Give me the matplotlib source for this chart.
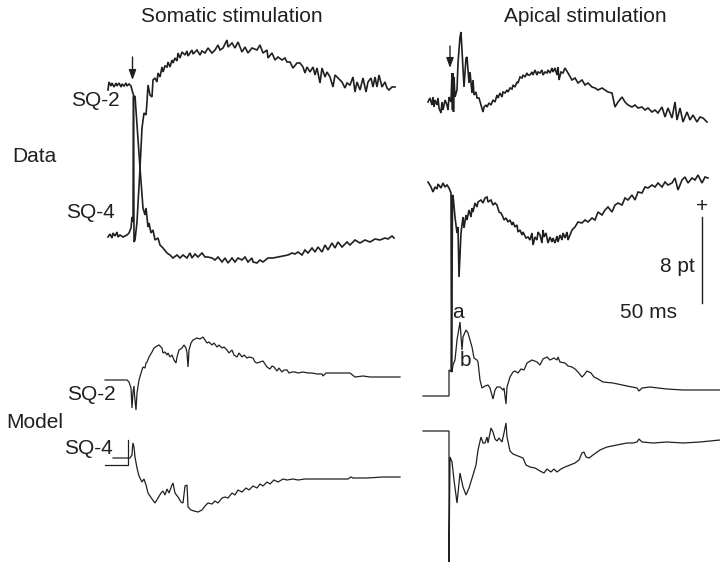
import numpy as np
import matplotlib.pyplot as plt

INK = '#231f20'
PT = 10.8  # amplitude units per pt (scale bar = 8 pt)

# Each trace: (time in ms from stimulus onset, amplitude in units, up = positive)

# --- Data, somatic stimulation ---
soma_data_sq2 = [
    (-25, -5), (-24, 3), (-22, -1), (-21, 2), (-19, -2), (-17, 2), (-16, -1), (-14, 2),
    (-12, -2), (-11, 1), (-9, -1), (-7, 2), (-6, -1), (-4, 1), (-2, -1), (-1, -5),
    (0.5, -10), (1, -157), (2, -155), (4, -137), (7, -83), (9, -43), (11, -28), (13, -30),
    (14, -17), (15, 0), (17, -10), (19, -12), (20, 5), (22, 7), (24, 3), (25, 12),
    (27, 8), (29, 18), (30, 13), (32, 19), (34, 18), (35, 23), (37, 18), (39, 25),
    (40, 22), (42, 27), (44, 24), (45, 32), (47, 27), (49, 33), (52, 30), (54, 34),
    (55, 29), (59, 35), (60, 31), (64, 35), (67, 30), (69, 34), (72, 32), (75, 37),
    (79, 32), (82, 35), (85, 40), (87, 35), (90, 37), (94, 45), (95, 38), (99, 42),
    (102, 37), (105, 43), (109, 33), (112, 38), (115, 32), (119, 37), (124, 35), (127, 40),
    (130, 32), (134, 35), (135, 27), (139, 32), (142, 25), (145, 28), (149, 25), (152, 27),
    (154, 23), (157, 23), (160, 17), (164, 22), (167, 22), (170, 18), (172, 12), (174, 18),
    (177, 13), (180, 18), (182, 10), (184, 17), (187, 2), (189, 17), (192, 8), (194, 13),
    (197, 8), (200, -2), (202, 10), (205, 7), (209, 3), (212, -3), (214, 2), (217, 0),
    (220, 8), (222, -7), (224, 3), (227, -5), (230, 7), (233, -7), (235, 3), (238, 7),
    (240, -2), (242, 8), (244, -2), (246, 10), (249, -2), (252, 3), (254, -3), (256, -5),
    (259, -2), (262, -2),
]
soma_data_sq4 = [
    (-25, -2), (-23, 1), (-21, -3), (-20, 2), (-18, -1), (-16, 3), (-15, -2), (-13, 0),
    (-10, -2), (-6, 0), (-4, 2), (-2, 7), (-1, 18), (0, 13), (0.5, 138), (2, 139),
    (7, 67), (10, 27), (12, 20), (13, 27), (15, 8), (16, 12), (18, 2), (20, 5),
    (22, -5), (25, -3), (27, -10), (30, -13), (34, -18), (37, -20), (40, -23), (44, -20),
    (47, -23), (50, -20), (54, -23), (57, -18), (59, -23), (62, -19), (65, -22), (69, -18),
    (72, -22), (75, -22), (79, -23), (82, -25), (85, -22), (89, -27), (92, -23), (95, -28),
    (99, -23), (102, -27), (105, -23), (109, -25), (112, -22), (115, -27), (119, -23), (120, -27),
    (124, -28), (127, -25), (130, -27), (135, -23), (140, -23), (145, -22), (150, -21), (155, -20),
    (159, -18), (162, -19), (165, -17), (169, -20), (172, -15), (175, -18), (179, -13), (182, -17),
    (185, -12), (189, -17), (192, -10), (195, -15), (199, -8), (202, -13), (205, -7), (209, -12),
    (214, -7), (217, -10), (222, -5), (227, -8), (232, -5), (237, -7), (242, -4), (247, -5),
    (252, -3), (255, -4), (259, -1), (261, -3),
]

# --- Data, apical stimulation ---
apic_data_sq2 = [
    (-23, 2), (-21, 6), (-19, -1), (-18, 7), (-17, -3), (-16, 4), (-14, -1), (-13, 6),
    (-12, -4), (-10, -9), (-9, 2), (-8, -6), (-6, 4), (-4, -1), (-3, -6), (-2, 7),
    (0, 2), (1, 31), (1.5, -6), (2, 31), (2.5, -8), (3, 27), (4, 7), (6, 14),
    (7, 41), (9, 67), (10, 72), (11, 54), (13, 17), (15, 46), (16, 47), (18, 21),
    (19, 32), (21, 11), (22, 24), (23, 9), (25, 12), (26, 6), (28, 6), (30, -1),
    (32, -8), (33, -3), (35, -1), (36, -3), (38, 1), (40, -1), (42, 4), (44, 2),
    (46, 9), (47, 6), (49, 11), (51, 7), (52, 12), (54, 11), (56, 14), (57, 12),
    (59, 16), (61, 15), (62, 19), (64, 17), (66, 22), (67, 21), (69, 27), (71, 26),
    (72, 29), (74, 27), (76, 31), (77, 29), (79, 29), (81, 32), (82, 29), (84, 34),
    (86, 29), (87, 32), (89, 31), (91, 34), (92, 29), (94, 32), (96, 31), (97, 34),
    (99, 31), (101, 36), (102, 32), (104, 36), (106, 29), (107, 37), (108, 24), (110, 32),
    (112, 31), (114, 36), (117, 31), (121, 24), (124, 26), (127, 21), (131, 24), (134, 19),
    (137, 21), (141, 17), (144, 16), (147, 14), (151, 16), (154, 14), (157, 12), (161, 11),
    (164, -3), (167, 2), (171, 7), (174, 2), (177, -1), (181, -3), (184, -1), (187, -4),
    (191, -3), (194, -6), (197, -4), (201, -8), (204, -6), (207, -9), (211, -3), (214, -13),
    (217, -4), (221, -14), (224, 2), (226, -16), (229, -4), (232, -18), (236, -8), (239, -16),
    (242, -11), (246, -18), (249, -13), (252, -14), (256, -18),
]
apic_data_sq4 = [
    (-23, 4), (-20, -1), (-18, -6), (-16, -1), (-14, -3), (-13, 2), (-10, -2), (-8, 3),
    (-6, -1), (-4, 1), (-2, -2), (0, -7), (0.5, -186), (1.5, -10), (2, -9), (4, -31),
    (6, -47), (7, -41), (8, -91), (10, -47), (12, -31), (13, -42), (15, -29), (16, -34),
    (18, -24), (20, -31), (21, -22), (22, -26), (24, -17), (26, -21), (27, -16), (30, -14),
    (32, -17), (34, -12), (36, -11), (37, -16), (40, -14), (42, -19), (44, -17), (46, -19),
    (48, -26), (50, -27), (52, -31), (53, -34), (55, -32), (57, -36), (59, -34), (61, -39),
    (62, -36), (64, -41), (66, -39), (67, -46), (69, -44), (71, -49), (72, -46), (75, -52),
    (77, -51), (79, -54), (81, -47), (82, -59), (84, -51), (86, -54), (87, -46), (89, -49),
    (91, -57), (92, -44), (93, -51), (95, -47), (97, -57), (99, -51), (101, -56), (102, -52),
    (104, -57), (106, -50), (107, -56), (109, -49), (111, -54), (112, -47), (114, -52), (116, -46),
    (117, -54), (121, -44), (124, -41), (127, -36), (131, -37), (134, -34), (137, -36), (141, -32),
    (144, -34), (147, -26), (151, -29), (154, -24), (157, -21), (161, -26), (164, -19), (167, -17),
    (171, -19), (174, -12), (177, -14), (181, -9), (184, -14), (187, -6), (191, -7), (194, -1),
    (197, -2), (201, 1), (204, -1), (207, 3), (211, -1), (214, 4), (217, 1), (221, 3),
    (224, 8), (227, -4), (231, 6), (234, 9), (237, 3), (241, 8), (244, 6), (247, 11),
    (251, 3), (254, 9), (257, 8),
]

# --- Model, somatic stimulation ---
soma_model_sq2 = [
    (-28, 0), (-6, 0), (-4, -2), (-2, -8), (-1, -28), (0, -12), (1, -6), (1.5, -15),
    (3, -30), (4, -13), (6, 0), (9, 10), (10, 13), (12, 12), (13, 17), (14, 18),
    (16, 23), (19, 28), (21, 32), (24, 34), (26, 35), (29, 32), (30, 27), (32, 28),
    (34, 25), (35, 27), (37, 23), (39, 25), (41, 20), (43, 17), (44, 23), (46, 30),
    (49, 32), (51, 35), (53, 32), (54, 27), (55, 13), (56, 30), (58, 37), (60, 40),
    (64, 42), (67, 41), (70, 43), (72, 40), (74, 37), (76, 38), (79, 35), (81, 37),
    (84, 33), (86, 35), (89, 32), (91, 33), (94, 30), (96, 27), (99, 30), (101, 25),
    (104, 23), (106, 27), (109, 23), (111, 25), (114, 22), (116, 23), (120, 22), (122, 18),
    (124, 17), (127, 18), (130, 19), (132, 16), (134, 13), (137, 11), (139, 14), (141, 13),
    (144, 9), (146, 12), (149, 8), (151, 10), (154, 10), (156, 7), (159, 8), (162, 8),
    (165, 7), (170, 8), (175, 7), (179, 7), (184, 6), (189, 6), (190, 4), (193, 7),
    (200, 7), (210, 7), (217, 7), (222, 3), (230, 4), (237, 3), (250, 3), (267, 3),
]
soma_model_sq4 = [
    (-20, 0), (-5, 0), (-3, 0), (-1, 3), (-0.5, 11), (0, 15), (1, 11), (2, 1),
    (4, -10), (6, -18), (9, -24), (11, -21), (13, -27), (15, -35), (19, -41), (22, -45),
    (25, -40), (28, -35), (30, -33), (32, -37), (34, -31), (36, -35), (39, -27), (40, -25),
    (42, -35), (45, -39), (48, -44), (50, -45), (52, -28), (54, -27), (55, -49), (58, -52),
    (61, -53), (65, -54), (69, -52), (72, -48), (75, -45), (79, -46), (82, -43), (85, -45),
    (89, -40), (92, -39), (95, -40), (99, -35), (102, -37), (105, -32), (109, -34), (113, -30),
    (116, -32), (120, -28), (124, -30), (127, -26), (130, -28), (134, -24), (137, -26), (141, -22),
    (145, -24), (150, -21), (154, -22), (160, -21), (165, -22), (172, -21), (179, -21), (189, -21),
    (200, -21), (215, -21), (218, -19), (220, -20), (234, -20), (250, -19), (267, -19),
]
soma_model_sq4_step = [(-28, -7), (-5, -7), (-5, 18)]

# --- Model, apical stimulation ---
apic_model_sq2 = [
    (-28, 0), (-2, 0), (-2, 26), (1, 24), (2, 31), (4, 36), (6, 56), (9, 74),
    (11, 46), (12, 59), (15, 66), (17, 63), (21, 49), (23, 38), (26, 36), (27, 34),
    (29, 16), (31, 8), (34, 10), (37, 11), (39, 8), (42, -3), (44, 6), (46, 9),
    (49, 9), (52, 6), (53, 8), (55, -8), (56, 9), (59, 19), (62, 24), (64, 25),
    (67, 23), (70, 27), (73, 26), (76, 33), (81, 36), (86, 34), (89, 31), (92, 37),
    (96, 39), (99, 36), (103, 38), (106, 36), (107, 39), (109, 34), (114, 33), (117, 30),
    (121, 29), (124, 27), (127, 24), (131, 19), (133, 21), (136, 25), (140, 23), (143, 19),
    (147, 17), (152, 14), (162, 13), (176, 10), (186, 8), (188, 5), (191, 8), (199, 9),
    (207, 8), (216, 7), (232, 6), (269, 6),
]
apic_model_sq4 = [
    (-28, 0), (-2, 0), (-2, -131), (-1, -26), (1, -31), (3, -49), (6, -72), (9, -42),
    (12, -56), (15, -64), (18, -57), (22, -44), (25, -34), (27, -19), (30, -6), (32, -12),
    (34, -12), (36, -6), (37, -12), (40, 3), (42, -1), (44, -8), (46, -10), (48, -7),
    (51, -11), (53, -2), (55, 8), (56, -6), (59, -20), (62, -23), (67, -25), (72, -27),
    (75, -34), (79, -36), (84, -37), (89, -40), (93, -42), (96, -38), (100, -41), (103, -38),
    (106, -41), (110, -38), (114, -36), (119, -34), (124, -32), (128, -29), (131, -22), (133, -21),
    (135, -26), (138, -27), (142, -24), (149, -19), (156, -16), (166, -14), (176, -12), (182, -12),
    (186, -11), (188, -8), (191, -11), (202, -12), (216, -11), (232, -12), (249, -11), (269, -9),
]

# layout: stimulus onset x and baseline y of each trace (page units)
SOMA_X0, APIC_X0 = 133, 451

fig = plt.figure(figsize=(7.2, 5.62), dpi=100)
ax = fig.add_axes([0, 0, 1, 1])
ax.set_xlim(0, 720)
ax.set_ylim(562, 0)
ax.axis('off')


def draw(points, x0, y0, lw=1.0):
    t, v = np.array(points, dtype=float).T
    ax.plot(x0 + t, y0 - v, color=INK, lw=lw, solid_joinstyle='miter')


draw(soma_data_sq2, SOMA_X0, 85, lw=1.2)
draw(soma_data_sq4, SOMA_X0, 235, lw=1.2)
draw(apic_data_sq2, APIC_X0, 104, lw=1.2)
draw(apic_data_sq4, APIC_X0, 186, lw=1.2)
draw(soma_model_sq2, SOMA_X0, 380, lw=0.9)
draw(soma_model_sq4, SOMA_X0, 458, lw=0.9)
draw(soma_model_sq4_step, SOMA_X0, 458, lw=0.9)
draw(apic_model_sq2, APIC_X0, 396, lw=0.9)
draw(apic_model_sq4, APIC_X0, 431, lw=0.9)

# stimulus arrows
for x, y_top, y_tip in [(132.5, 57, 80), (450, 46, 68)]:
    ax.annotate('', xy=(x, y_tip), xytext=(x, y_top),
                arrowprops=dict(arrowstyle='-|>,head_length=0.6,head_width=0.22',
                                color=INK, lw=1.0, shrinkA=0, shrinkB=0))

# 8 pt scale bar
bar_x, bar_bottom = 702, 303
ax.plot([bar_x, bar_x], [bar_bottom, bar_bottom - 8 * PT], color=INK, lw=1.0)

font = dict(family='Liberation Sans', size=15, color=INK)
ax.text(232, 16, 'Somatic stimulation', ha='center', va='center', **font)
ax.text(585, 16, 'Apical stimulation', ha='center', va='center', **font)
ax.text(12, 157, 'Data', ha='left', va='center', **font)
ax.text(6, 422, 'Model', ha='left', va='center', **font)
ax.text(95, 101, 'SQ-2', ha='center', va='center', **font)
ax.text(90, 213, 'SQ-4', ha='center', va='center', **font)
ax.text(91, 395, 'SQ-2', ha='center', va='center', **font)
ax.text(88, 448, 'SQ-4', ha='center', va='center', **font)
ax.text(458, 312, 'a', ha='center', va='center', **font)
ax.text(465, 361, 'b', ha='center', va='center', **font)
ax.text(695, 267, '8 pt', ha='right', va='center', **font)
ax.text(649, 313, '50 ms', ha='center', va='center', **font)
ax.text(bar_x, 207, '+', ha='center', va='center', **font)

fig.savefig('out.png', dpi=100)
